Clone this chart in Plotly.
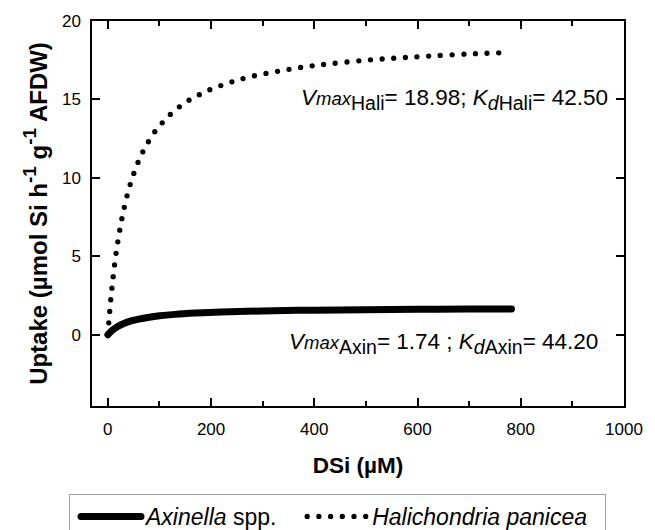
import plotly.graph_objects as go

# Halichondria panicea (dotted curve)
hali_x = [0, 2, 4, 6, 8, 10, 13, 16, 20, 25, 30, 37, 45, 55, 65, 75, 90, 105, 125,
          150, 175, 200, 240, 280, 330, 380, 430, 500, 560, 620, 700, 765]
hali_y = [0, 0.85, 1.63, 2.35, 3.0, 3.6, 4.45, 5.2, 6.07, 7.03, 7.85, 8.83, 9.76, 10.7,
          11.48, 12.1, 12.9, 13.5, 14.16, 14.8, 15.27, 15.65, 16.12, 16.48, 16.8, 17.07,
          17.27, 17.5, 17.64, 17.76, 17.9, 17.98]

# Axinella spp. (solid curve)
axin_x = [0, 5, 10, 20, 30, 45, 60, 80, 100, 130, 170, 220, 300, 400, 500, 600, 700, 782]
axin_y = [0, 0.18, 0.32, 0.54, 0.7, 0.88, 1.0, 1.12, 1.21, 1.3, 1.38, 1.45, 1.52, 1.57,
          1.6, 1.62, 1.64, 1.65]

x_ticks = [0, 200, 400, 600, 800, 1000]
y_ticks = [0, 5, 10, 15, 20]

FONT = "Liberation Sans, Arial, sans-serif"
NB = "&nbsp;"

fig = go.Figure()
fig.add_trace(go.Scatter(x=axin_x, y=axin_y, mode="lines",
                         name="<i>Axinella</i> spp." + NB * 2,
                         line=dict(color="black", width=7, shape="spline")))
fig.add_trace(go.Scatter(x=hali_x, y=hali_y, mode="lines",
                         name="<i>Halichondria panicea</i>" + NB * 2,
                         line=dict(color="black", width=5.3, dash="0px,11.7px", shape="spline")))

sub_style = "font-size:19.5px"
fig.add_annotation(x=371, y=15, xref="x", yref="y", xanchor="left", yanchor="middle",
                   showarrow=False,
                   text=("<i>V</i><span style='font-size:18.5px'><i>max</i></span>"
                         f"<sub><span style='{sub_style}'>Hali</span></sub>= 18.98; "
                         f"<i>K</i><sub><span style='{sub_style}'><i>d</i></span></sub>"
                         f"<sub><span style='{sub_style}'>Hali</span></sub>= 42.50"),
                   font=dict(family=FONT, size=22.5, color="black"))
fig.add_annotation(x=348, y=-0.57, xref="x", yref="y", xanchor="left", yanchor="middle",
                   showarrow=False,
                   text=("<i>V</i><span style='font-size:18.5px'><i>max</i></span>"
                         f"<sub><span style='{sub_style}'>Axin</span></sub>= 1.74 ; "
                         f"<i>K</i><sub><span style='{sub_style}'><i>d</i></span></sub>"
                         f"<sub><span style='{sub_style}'>Axin</span></sub>= 44.20"),
                   font=dict(family=FONT, size=22.5, color="black"))

fig.update_layout(
    width=655, height=530,
    margin=dict(l=92, r=25, t=18, b=124),
    paper_bgcolor="white", plot_bgcolor="white",
    font=dict(family=FONT, size=17, color="black"),
    showlegend=True,
    legend=dict(orientation="h", xref="container", yref="container",
                x=69 / 655, y=1 - 494 / 530, xanchor="left", yanchor="top",
                bordercolor="#a0a0a0", borderwidth=1, font=dict(size=23),
                itemwidth=60, indentation=6),
    xaxis=dict(range=[-30.7, 1000], tickvals=x_ticks, ticks="inside", ticklen=8,
               tickwidth=1.5, tickcolor="black", showline=True, linecolor="black",
               linewidth=1.5, mirror="ticks", showgrid=False, zeroline=False,
               minor=dict(dtick=100, tick0=0, ticks="inside", ticklen=5, tickwidth=1.5,
                          tickcolor="black", showgrid=False),
               tickfont=dict(size=17), ticklabelstandoff=7,
               title=dict(text="<b>DSi (µM)</b>", font=dict(size=22.5), standoff=19)),
    yaxis=dict(range=[-4.54, 20], tickvals=y_ticks, ticks="inside", ticklen=8,
               tickwidth=1.5, tickcolor="black", showline=True, linecolor="black",
               linewidth=1.5, mirror="ticks", showgrid=False, zeroline=False,
               tickfont=dict(size=17), ticklabelstandoff=6,
               title=dict(text=("<b>Uptake (µmol Si h<sup><span style='font-size:19px'>-1</span></sup>"
                                " g<sup><span style='font-size:19px'>-1</span></sup> AFDW)</b>"),
                          font=dict(size=24), standoff=8)),
)

post = """
document.body.style.margin='0';
var gd = document.getElementById('{plot_id}');
function fixCaps(){
  gd.querySelectorAll('path.js-line').forEach(function(p){
    p.style.strokeLinecap='round'; p.style.strokeLinejoin='round';
  });
}
fixCaps();
gd.on('plotly_afterplot', fixCaps);
"""

fig.write_html("out.html", post_script=post, config={"displayModeBar": False})
